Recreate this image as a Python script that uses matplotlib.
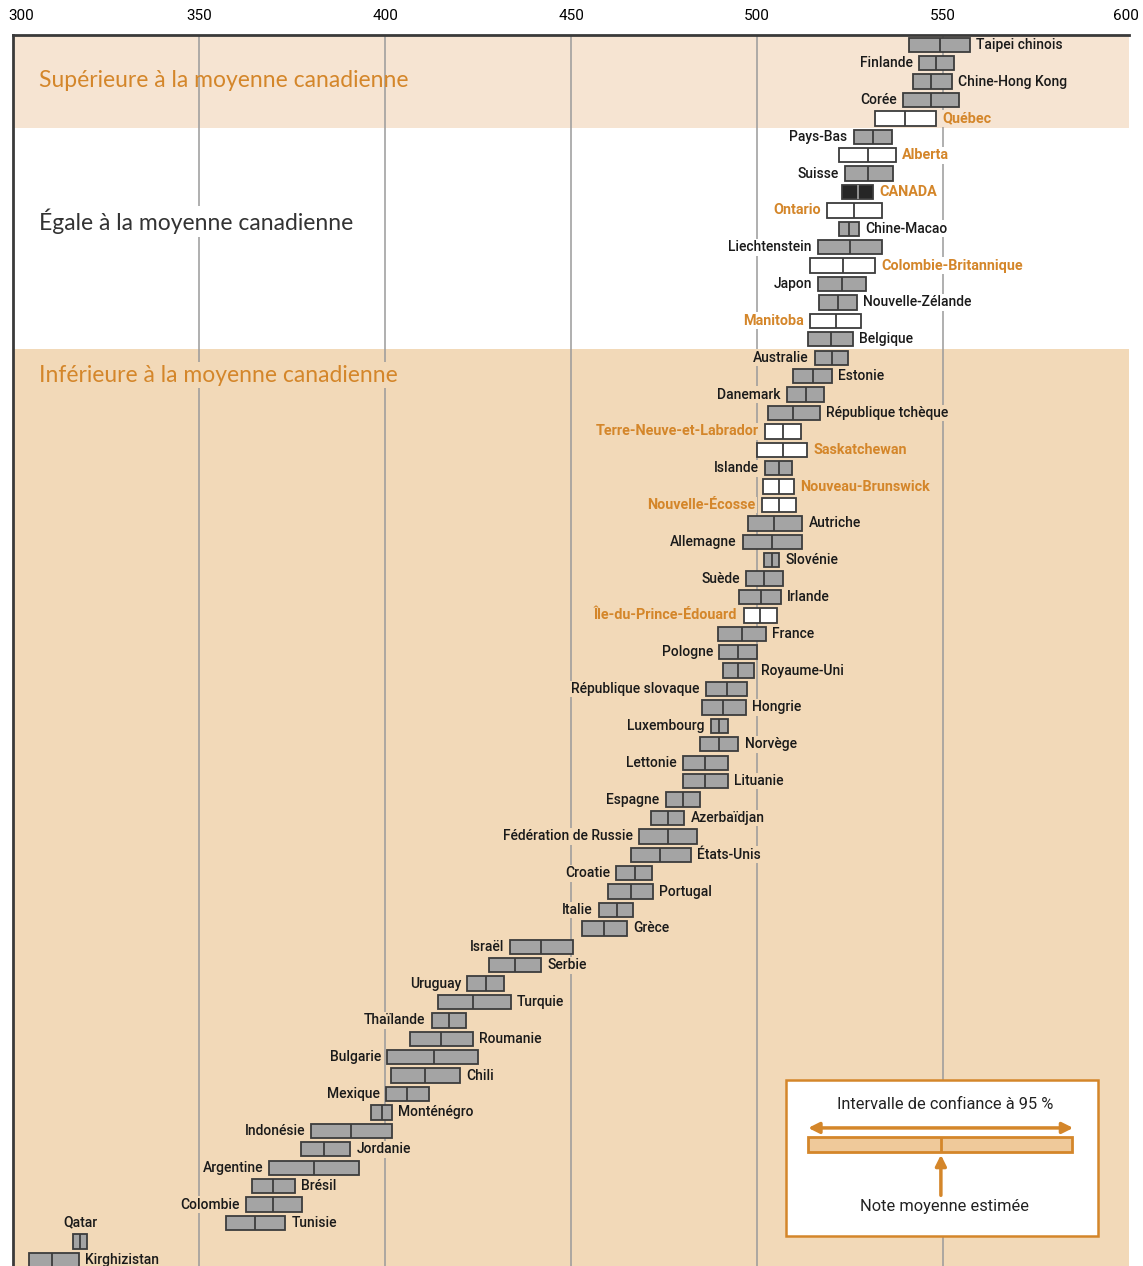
import matplotlib
matplotlib.use("Agg")
import matplotlib.pyplot as plt
from matplotlib.patches import Rectangle
from matplotlib.transforms import ScaledTranslation

# PISA scores: lower bound, mean, upper bound of the 95% CI
names = ["Taipei chinois", "Finlande", "Chine-Hong Kong", "Corée", "Québec",
         "Pays-Bas", "Alberta", "Suisse", "CANADA", "Ontario", "Chine-Macao",
         "Liechtenstein", "Colombie-Britannique", "Japon", "Nouvelle-Zélande",
         "Manitoba", "Belgique", "Australie", "Estonie", "Danemark",
         "République tchèque", "Terre-Neuve-et-Labrador", "Saskatchewan",
         "Islande", "Nouveau-Brunswick", "Nouvelle-Écosse", "Autriche",
         "Allemagne", "Slovénie", "Suède", "Irlande", "Île-du-Prince-Édouard",
         "France", "Pologne", "Royaume-Uni", "République slovaque", "Hongrie",
         "Luxembourg", "Norvège", "Lettonie", "Lituanie", "Espagne",
         "Azerbaïdjan", "Fédération de Russie", "États-Unis", "Croatie",
         "Portugal", "Italie", "Grèce", "Israël", "Serbie", "Uruguay",
         "Turquie", "Thaïlande", "Roumanie", "Bulgarie", "Chili", "Mexique",
         "Monténégro", "Indonésie", "Jordanie", "Argentine", "Brésil",
         "Colombie", "Tunisie", "Qatar", "Kirghizistan"]

means = [549.3, 548.2, 546.8, 546.8, 539.9, 531.2, 530.0, 530.0, 527.1, 526.2,
         524.9, 525.1, 523.1, 522.8, 521.7, 521.3, 519.9, 520.1, 515.0, 513.1,
         509.8, 507.0, 507.0, 506.0, 506.0, 506.0, 504.7, 504.2, 504.0, 501.9,
         501.0, 500.8, 495.9, 494.9, 494.9, 491.9, 491.0, 489.9, 489.8, 486.1,
         486.1, 480.0, 476.2, 476.2, 473.9, 467.2, 466.1, 462.3, 459.0, 442.0,
         434.9, 427.1, 423.7, 417.2, 415.0, 413.2, 410.7, 405.8, 399.1, 390.8,
         383.6, 380.9, 369.9, 369.9, 365.0, 317.9, 310.5]

lows = [541.0, 543.6, 541.9, 539.4, 531.8, 526.0, 522.2, 523.7, 522.8, 518.8,
        522.1, 516.5, 514.3, 516.5, 516.8, 514.3, 513.8, 515.6, 509.8, 508.0,
        503.1, 502.2, 500.0, 502.2, 501.7, 501.3, 497.7, 496.2, 502.0, 497.1,
        495.3, 496.4, 489.5, 489.9, 490.8, 486.3, 485.2, 487.7, 484.7, 480.2,
        480.2, 475.5, 471.5, 468.4, 466.1, 462.1, 459.9, 457.5, 452.9, 433.6,
        427.9, 422.1, 414.2, 412.5, 406.7, 400.6, 401.6, 400.2, 396.2, 380.1,
        377.4, 368.8, 364.3, 362.6, 357.1, 315.9, 304.3]

highs = [557.2, 552.9, 552.4, 554.5, 548.2, 536.3, 537.4, 536.7, 531.3, 533.6,
         527.6, 533.6, 531.8, 529.3, 526.9, 527.9, 525.8, 524.6, 520.1, 518.1,
         517.0, 511.8, 513.6, 509.4, 510.0, 510.5, 512.2, 512.1, 506.0, 506.9,
         506.5, 505.5, 502.4, 500.0, 499.3, 497.3, 497.0, 492.3, 495.0, 492.1,
         492.1, 484.7, 480.5, 483.8, 482.2, 471.7, 472.1, 466.8, 465.0, 450.4,
         441.9, 432.1, 433.8, 421.7, 423.5, 425.1, 420.0, 411.8, 401.9, 401.9,
         390.6, 393.0, 375.7, 377.5, 373.1, 319.9, 317.5]

provinces = ["Québec", "Alberta", "Ontario", "Colombie-Britannique", "Manitoba",
             "Terre-Neuve-et-Labrador", "Saskatchewan", "Nouveau-Brunswick",
             "Nouvelle-Écosse", "Île-du-Prince-Édouard"]

# number of rows above / equal to the Canadian mean
n_above = 5
n_equal = 12

xticks = [300, 350, 400, 450, 500, 550, 600]

orange = "#d4862a"
band_top = "#f6e4d2"
band_low = "#f2d9b8"
bar_grey = "#a4a4a4"
edge = "#3c3c3c"

W, H = 1143, 1266
fig = plt.figure(figsize=(W / 100, H / 100), dpi=100)
ax = fig.add_axes([13.45 / W, 0, 1115.15 / W, 1 - 35 / H])

n = len(names)
rows = list(range(n))
ax.set_xlim(300, 600)
ax.set_ylim(66.34, -0.53)

# background bands
ax.axhspan(-0.53, n_above - 0.5, color=band_top, zorder=0, lw=0)
ax.axhspan(n_above + n_equal - 0.5, n + 1, color=band_low, zorder=0, lw=0)

for v in xticks[1:-1]:
    ax.axvline(v, color="#9a9a9a", lw=1.1, zorder=1)

bh = 0.78
fills = []
for nm in names:
    if nm == "CANADA":
        fills.append("#262626")
    elif nm in provinces:
        fills.append("white")
    else:
        fills.append(bar_grey)

widths = [h - l for l, h in zip(lows, highs)]
ax.barh(rows, widths, left=lows, height=bh, color=fills, edgecolor=edge,
        linewidth=1.3, zorder=3)
mean_cols = ["#9a9a9a" if nm == "CANADA" else edge for nm in names]
ax.vlines(means, [r - bh / 2 for r in rows], [r + bh / 2 for r in rows],
          colors=mean_cols, lw=1.3, zorder=4)

lab_font = ["Roboto", "DejaVu Sans"]
for i, nm in enumerate(names):
    if i < n_above:
        bg = band_top
    elif i < n_above + n_equal:
        bg = "white"
    else:
        bg = band_low
    is_ca = nm in provinces or nm == "CANADA"
    col = orange if is_ca else "#1a1a1a"
    wt = "bold" if is_ca else "medium"
    fs = 10.4 if is_ca else 10
    box = dict(facecolor=bg, edgecolor="none", pad=1.0)
    if nm == "Qatar":
        ax.text(means[i], i - 1.05, nm, ha="center", va="center", fontsize=fs,
                family=lab_font, color=col, weight=wt, bbox=box, zorder=2)
    elif i % 2 == 0:
        ax.annotate(nm, (highs[i], i), xytext=(4.5, 0), textcoords="offset points",
                    ha="left", va="center", fontsize=fs, family=lab_font,
                    color=col, weight=wt, bbox=box, zorder=2)
    else:
        ax.annotate(nm, (lows[i], i), xytext=(-4.5, 0), textcoords="offset points",
                    ha="right", va="center", fontsize=fs, family=lab_font,
                    color=col, weight=wt, bbox=box, zorder=2)

# band titles
title_font = ["Lato", "DejaVu Sans"]
ax.text(307, 1.92, "Supérieure à la moyenne canadienne", fontsize=16.5,
        family=title_font, color=orange, va="center", zorder=2)
ax.text(307, 9.58, "Égale à la moyenne canadienne", fontsize=16.5,
        family=title_font, color="#333333", va="center", zorder=2,
        bbox=dict(facecolor="white", edgecolor="none", pad=2))
ax.text(307, 17.94, "Inférieure à la moyenne canadienne", fontsize=16.5,
        family=title_font, color=orange, va="center", zorder=2,
        bbox=dict(facecolor=band_low, edgecolor="none", pad=2))

# legend box
ax.add_patch(Rectangle((507.8, 56.24), 84.1, 8.45, facecolor="white",
                       edgecolor=orange, lw=1.8, zorder=5))
ax.annotate("", xy=(513.8, 58.84), xytext=(585.1, 58.84),
            arrowprops=dict(arrowstyle="<|-|>", color=orange, lw=2.5,
                            mutation_scale=16, shrinkA=0, shrinkB=0), zorder=6)
ax.add_patch(Rectangle((513.8, 59.32), 70.9, 0.81, facecolor="#efc99a",
                       edgecolor=orange, lw=2, zorder=6))
ax.vlines(549.5, 59.32, 60.13, colors=orange, lw=2, zorder=7)
ax.annotate("", xy=(549.5, 60.3), xytext=(549.5, 62.5),
            arrowprops=dict(arrowstyle="-|>", color=orange, lw=2.5,
                            mutation_scale=16, shrinkA=0, shrinkB=0), zorder=6)
ax.text(550.6, 57.59, "Intervalle de confiance à 95 %", ha="center",
        va="center", fontsize=11.8, family=lab_font, color="#222222", zorder=7)
ax.text(550.6, 63.12, "Note moyenne estimée", ha="center", va="center",
        fontsize=11.8, family=lab_font, color="#222222", zorder=7)

# axis at the top, no ticks
ax.xaxis.tick_top()
ax.set_xticks(xticks)
ax.set_xticklabels([str(v) for v in xticks], fontsize=11, family=lab_font)
ax.tick_params(axis="x", length=0, pad=9)
ax.set_yticks([])
tl = ax.get_xticklabels()
tl[0].set_transform(tl[0].get_transform() + ScaledTranslation(0.08, 0, fig.dpi_scale_trans))
tl[-1].set_transform(tl[-1].get_transform() + ScaledTranslation(-0.03, 0, fig.dpi_scale_trans))

for s in ["bottom", "right"]:
    ax.spines[s].set_visible(False)
ax.spines["top"].set_color("#3a3a3a")
ax.spines["top"].set_linewidth(2)
ax.spines["left"].set_color("#3a3a3a")
ax.spines["left"].set_linewidth(2)

fig.savefig("out.png", dpi=100)
